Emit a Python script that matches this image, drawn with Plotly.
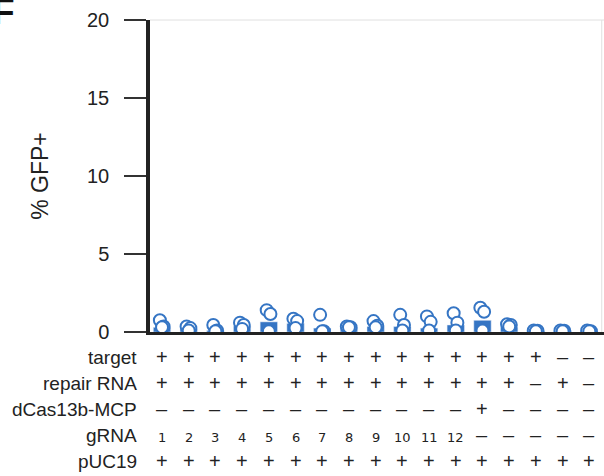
import plotly.graph_objects as go

# ---- data ----
groups = list(range(17))
bar_vals = [0.3, 0.2, 0.1, 0.4, 0.65, 0.55, 0.25, 0.3, 0.35, 0.35, 0.25, 0.45, 0.75, 0.3, 0.05, 0.08, 0.05]
rep1 = [0.75, 0.35, 0.45, 0.6, 1.4, 0.85, 1.1, 0.35, 0.7, 1.1, 1.0, 1.2, 1.55, 0.5, 0.1, 0.1, 0.1]
rep2 = [0.35, 0.25, 0.1, 0.45, 1.15, 0.7, 0.05, 0.3, 0.4, 0.45, 0.65, 0.6, 1.3, 0.45, 0.08, 0.08, 0.05]
rep3 = [0.3, 0.1, 0.05, 0.2, 0.05, 0.25, 0.05, 0.3, 0.3, 0.1, 0.1, 0.1, 0.1, 0.35, 0.05, 0.05, 0.05]

row_labels = ["target", "repair RNA", "dCas13b-MCP", "gRNA", "pUC19"]
row_target = ["+"] * 15 + ["–", "–"]
row_repair = ["+"] * 14 + ["–", "+", "–"]
row_dcas = ["–"] * 12 + ["+"] + ["–"] * 4
row_grna = [str(i) for i in range(1, 13)] + ["–"] * 5
row_puc = ["+"] * 17
rows = [row_target, row_repair, row_dcas, row_grna, row_puc]

blue = "#3575c4"
fig = go.Figure()
fig.add_trace(go.Bar(x=groups, y=bar_vals, marker_color=blue, width=0.65, showlegend=False))
offsets = [-0.08, 0.06, 0.0]
for reps, off in zip([rep1, rep2, rep3], offsets):
    fig.add_trace(go.Scatter(
        x=[g + off for g in groups], y=reps, mode="markers", showlegend=False,
        marker=dict(symbol="circle", size=12, color="white", line=dict(color=blue, width=2))))

annotations = []
for k, (lab, row) in enumerate(zip(row_labels, rows)):
    yshift = -25 - 26 * k
    annotations.append(dict(text=lab, xref="paper", yref="paper", x=0, y=0, xshift=-11, yshift=yshift,
                            xanchor="right", yanchor="middle", showarrow=False,
                            font=dict(family="Liberation Sans, Arial", size=19, color="#222")))
    for g, s in zip(groups, row):
        small = s.isdigit()
        annotations.append(dict(text=s, xref="x", yref="paper", x=g, y=0, yshift=yshift + (-2 if small else 0),
                                xanchor="center", yanchor="middle", showarrow=False,
                                font=dict(family="DejaVu Sans" if small else "Liberation Sans, Arial",
                                          size=13 if small else 20, color="#222")))
annotations.append(dict(text="<b>F</b>", xref="paper", yref="paper", x=0, y=1, xshift=-160, yshift=31,
                        xanchor="left", yanchor="top", showarrow=False,
                        font=dict(family="Liberation Sans, Arial", size=37, color="#111")))

fig.update_layout(
    width=604, height=476,
    margin=dict(l=150, r=0, t=20, b=144, autoexpand=False),
    plot_bgcolor="white", paper_bgcolor="white",
    barmode="overlay",
    annotations=annotations,
    shapes=[
        dict(type="line", xref="paper", yref="paper", x0=0, x1=1, y0=1, y1=1, line=dict(color="#e0e0e0", width=1)),
        dict(type="line", xref="paper", yref="paper", x0=0.995, x1=0.995, y0=0, y1=1, line=dict(color="#e0e0e0", width=1)),
    ],
    xaxis=dict(range=[-0.45, 16.55], showline=True, linecolor="#222", linewidth=3, automargin=False,
               showticklabels=False, ticks="", showgrid=False, zeroline=False),
    yaxis=dict(range=[0, 20], tickvals=[0, 5, 10, 15, 20], showline=True, linecolor="#222", linewidth=3.5,
               automargin=False, ticklabelstandoff=11,
               ticks="outside", ticklen=22, tickwidth=2, tickcolor="#333", showgrid=False, zeroline=False,
               tickfont=dict(family="Liberation Sans, Arial", size=20, color="#222"),
               title=dict(text="% GFP+", font=dict(family="Liberation Sans, Arial", size=23, color="#222"), standoff=33)),
)
fig.write_html("out.html", config={"displayModeBar": False},
               post_script="document.body.style.margin='0';document.body.style.overflow='hidden';")
